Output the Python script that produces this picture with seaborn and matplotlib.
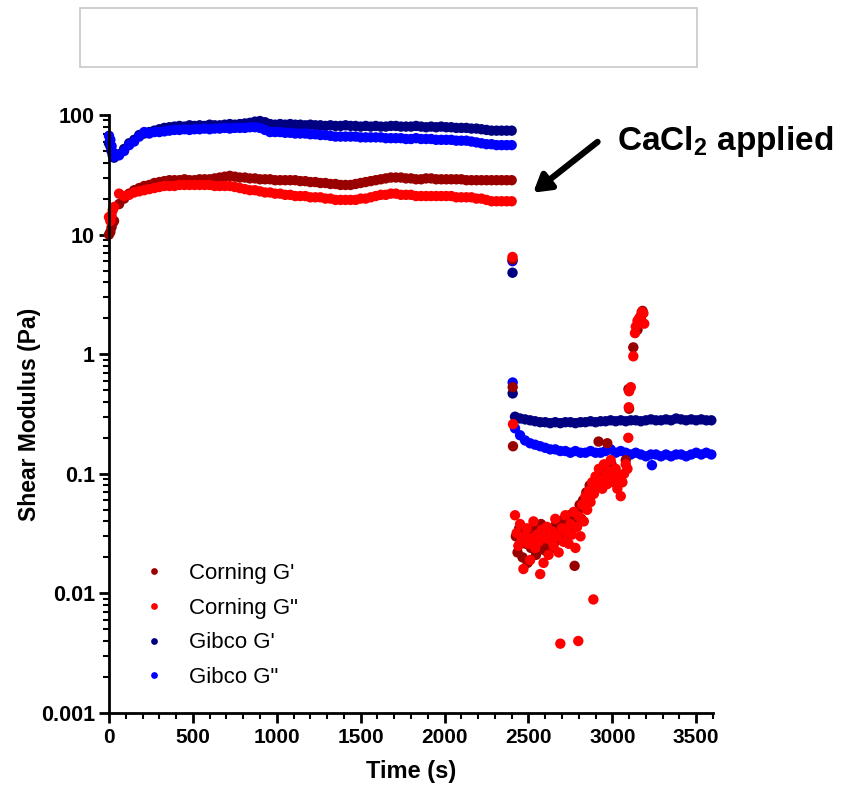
import numpy as np
import pandas as pd
import matplotlib
matplotlib.use("Agg")
import matplotlib.pyplot as plt
import seaborn as sns
from matplotlib.patches import Rectangle
from matplotlib.ticker import MultipleLocator, LogLocator, FixedLocator, NullFormatter

# ---------------- data ----------------
series_names = ["Corning G'", 'Corning G"', "Gibco G'", 'Gibco G"']
series_colors = ["#990000", "#ff0000", "#000080", "#0000ff"]

# phase 1 (before CaCl2), sampled every 30 s
t_phase1 = list(range(0, 2401, 30))
t_early = [8, 15, 22]

gibco_gp_p1 = [58, 44, 47, 52, 58, 62, 68, 70, 72, 74,
               76, 78, 79, 80, 81, 80, 82, 81, 82, 81,
               83, 82, 82, 83, 84, 83, 84, 85, 86, 88,
               89, 87, 84, 83, 84, 83, 84, 83, 83, 82,
               83, 82, 82, 81, 82, 81, 81, 82, 81, 81,
               80, 81, 80, 81, 80, 80, 81, 81, 80, 80,
               80, 81, 80, 79, 80, 79, 80, 79, 79, 78,
               78, 78, 77, 77, 76, 75, 74, 74, 74, 74,
               74]
gibco_gpp_p1 = [67, 45, 46, 50, 56, 60, 66, 72, 70, 72,
                72, 73, 74, 75, 75, 76, 75, 76, 76, 77,
                76, 77, 77, 78, 77, 78, 78, 78, 79, 79,
                78, 75, 72, 72, 72, 71, 71, 70, 70, 70,
                69, 69, 68, 68, 67, 66, 66, 66, 66, 66,
                65, 65, 65, 65, 65, 64, 64, 64, 64, 63,
                63, 64, 63, 63, 63, 62, 62, 62, 62, 61,
                61, 61, 60, 59, 58, 57, 57, 56, 56, 56,
                56]
corning_gp_p1 = [10, 13, 18, 20, 22, 23.5, 24.5, 25.5, 26, 27,
                 27.5, 28, 28.5, 28.5, 28.5, 29, 28.5, 28.5, 29, 29,
                 29, 29.5, 30, 30.5, 31, 30.5, 30, 30, 29.5, 29.5,
                 29, 29, 29, 28.5, 28.5, 28.5, 28.5, 28.5, 28, 28,
                 27.5, 27.5, 27, 27, 26.5, 26.5, 26, 26, 26, 26.5,
                 27, 27.5, 28, 28.5, 29, 29.5, 30, 30, 30, 29.5,
                 29.5, 29, 29, 29.5, 29.5, 29, 29, 29, 29, 29,
                 29, 28.5, 28.5, 28.5, 28.5, 28.5, 28.5, 28.5, 28.5, 28.5,
                 28.5]
corning_gpp_p1 = [14, 17, 22, 21, 21.5, 22.5, 23, 23.5, 24, 24.5,
                  25, 25.5, 25.5, 25.5, 26, 26, 26, 26, 26, 26,
                  26, 25.5, 25.5, 25.5, 25.5, 25, 24.5, 24, 23.5, 23.5,
                  23, 22.5, 22.5, 22, 22, 21.5, 21.5, 21, 21, 21,
                  20.5, 20.5, 20.5, 20, 20, 19.5, 19.5, 19.5, 19.5, 19.5,
                  20, 20, 20.5, 21, 21.5, 21.5, 22, 22, 21.5, 21.5,
                  21.5, 21, 21, 21, 21, 21, 21, 21, 21, 20.5,
                  20.5, 20.5, 20.5, 20, 20, 19.5, 19, 19, 19, 19,
                  19]
gibco_gp_early = [55, 50, 46]
gibco_gpp_early = [62, 55, 49]
corning_gp_early = [10.5, 11.5, 12.5]
corning_gpp_early = [13, 14.5, 16]

# phase 2 (after CaCl2)
t_phase2_gibco = list(range(2420, 3591, 30))
gibco_gp_p2 = [0.30, 0.29, 0.285, 0.28, 0.275, 0.27, 0.27, 0.265, 0.27, 0.265,
               0.27, 0.27, 0.265, 0.27, 0.27, 0.275, 0.27, 0.275, 0.275, 0.28,
               0.275, 0.28, 0.275, 0.28, 0.28, 0.275, 0.28, 0.285, 0.28, 0.28,
               0.285, 0.28, 0.29, 0.285, 0.28, 0.285, 0.28, 0.285, 0.28, 0.28]
gibco_gpp_p2 = [0.24, 0.21, 0.19, 0.18, 0.175, 0.17, 0.165, 0.16, 0.16, 0.155,
                0.155, 0.15, 0.155, 0.15, 0.15, 0.155, 0.15, 0.15, 0.155, 0.16,
                0.15, 0.155, 0.15, 0.145, 0.15, 0.145, 0.14, 0.145, 0.145, 0.14,
                0.145, 0.14, 0.145, 0.145, 0.14, 0.145, 0.15, 0.145, 0.15, 0.145]
gibco_gp_extra_t = [2405, 2406]
gibco_gp_extra_v = [4.8, 0.47]
gibco_gpp_extra_t = [2405, 2406, 3236]
gibco_gpp_extra_v = [6.0, 0.58, 0.118]

corning_gpp_t2 = [2405, 2408, 2420, 2430, 2440, 2450, 2460, 2470, 2480, 2490,
                  2500, 2510, 2520, 2530, 2540, 2550, 2560, 2570, 2580, 2590,
                  2600, 2610, 2620, 2630, 2640, 2650, 2660, 2670, 2680, 2690,
                  2700, 2710, 2720, 2730, 2740, 2750, 2760, 2770, 2780, 2790,
                  2797, 2800, 2810, 2820, 2830, 2840, 2850, 2860, 2870, 2880,
                  2887, 2890, 2900, 2910, 2920, 2930, 2940, 2950, 2960, 2970,
                  2980, 2990, 3000, 3010, 3020, 3030, 3040, 3050, 3060, 3070,
                  3080, 3090, 3095, 3098, 3100, 3110, 3125, 3135, 3140, 3150,
                  3160, 3170, 3175, 3185, 3190]
corning_gpp_v2 = [6.5, 0.26, 0.045, 0.032, 0.025, 0.038, 0.028, 0.016, 0.030, 0.035,
                  0.026, 0.019, 0.029, 0.040, 0.024, 0.031, 0.027, 0.0145, 0.034, 0.018,
                  0.029, 0.036, 0.021, 0.028, 0.033, 0.025, 0.042, 0.030, 0.022, 0.0038,
                  0.035, 0.027, 0.045, 0.032, 0.026, 0.038, 0.031, 0.048, 0.024, 0.036,
                  0.0040, 0.044, 0.030, 0.055, 0.040, 0.065, 0.050, 0.072, 0.058, 0.085,
                  0.0089, 0.068, 0.095, 0.078, 0.110, 0.088, 0.075, 0.120, 0.095, 0.082,
                  0.105, 0.130, 0.090, 0.085, 0.110, 0.075, 0.095, 0.065, 0.085, 0.100,
                  0.120, 0.110, 0.200, 0.360, 0.490, 0.530, 0.960, 1.5, 1.7, 1.9,
                  2.0, 2.1, 2.25, 2.2, 1.8]
corning_gp_t2 = [2405, 2406, 2408, 2425, 2435, 2445, 2455, 2465, 2475, 2485,
                 2495, 2505, 2515, 2525, 2535, 2545, 2555, 2565, 2575, 2585,
                 2595, 2605, 2615, 2625, 2635, 2645, 2655, 2665, 2675, 2685,
                 2695, 2705, 2715, 2725, 2735, 2745, 2755, 2765, 2775, 2785,
                 2795, 2805, 2815, 2825, 2835, 2845, 2855, 2865, 2875, 2885,
                 2895, 2905, 2918, 2925, 2945, 2970, 2995, 3020, 3050, 3080,
                 3096, 3100, 3125, 3150, 3170, 3180]
corning_gp_v2 = [6.2, 0.53, 0.17, 0.030, 0.022, 0.035, 0.027, 0.020, 0.033, 0.026,
                 0.018, 0.030, 0.024, 0.036, 0.028, 0.021, 0.032, 0.026, 0.038, 0.029,
                 0.023, 0.031, 0.026, 0.035, 0.029, 0.024, 0.033, 0.038, 0.028, 0.040,
                 0.031, 0.036, 0.042, 0.030, 0.037, 0.045, 0.034, 0.040, 0.017, 0.038,
                 0.046, 0.055, 0.042, 0.060, 0.052, 0.070, 0.063, 0.080, 0.072, 0.068,
                 0.085, 0.095, 0.186, 0.100, 0.110, 0.180, 0.120, 0.100, 0.090, 0.130,
                 0.51, 0.35, 1.14, 1.6, 2.0, 2.3]

x_ticks = [0, 500, 1000, 1500, 2000, 2500, 3000, 3500]
y_ticks = [0.001, 0.01, 0.1, 1, 10, 100]
y_tick_labels = ["0.001", "0.01", "0.1", "1", "10", "100"]

# ---------------- table ----------------
def block(name, t, v):
    return pd.DataFrame({"Time": list(t), "Modulus": list(v), "series": name})

# drawing order: Gibco first, Corning on top
df = pd.concat([
    block(series_names[2], t_early + t_phase1 + gibco_gp_extra_t + t_phase2_gibco,
          gibco_gp_early + gibco_gp_p1 + gibco_gp_extra_v + gibco_gp_p2),
    block(series_names[3], t_early + t_phase1 + gibco_gpp_extra_t + t_phase2_gibco,
          gibco_gpp_early + gibco_gpp_p1 + gibco_gpp_extra_v + gibco_gpp_p2),
    block(series_names[0], t_early + t_phase1 + corning_gp_t2,
          corning_gp_early + corning_gp_p1 + corning_gp_v2),
    block(series_names[1], t_early + t_phase1 + corning_gpp_t2,
          corning_gpp_early + corning_gpp_p1 + corning_gpp_v2),
], ignore_index=True)

# ---------------- style ----------------
sns.set_style("ticks")
plt.rcParams["font.family"] = ["Liberation Sans", "DejaVu Sans"]
plt.rcParams["mathtext.fontset"] = "custom"
plt.rcParams["mathtext.rm"] = "Liberation Sans"
plt.rcParams["mathtext.bf"] = "Liberation Sans:bold"
for key in ["text.color", "axes.labelcolor", "xtick.color", "ytick.color", "axes.edgecolor"]:
    plt.rcParams[key] = "black"

W, H = 841, 787
fig = plt.figure(figsize=(W / 100, H / 100), dpi=100)
L, R, T, B = 109, 713, 115, 713
ax = fig.add_axes([L / W, 1 - B / H, (R - L) / W, (B - T) / H])

sns.scatterplot(data=df, x="Time", y="Modulus", hue="series",
                hue_order=series_names,
                palette=dict(zip(series_names, series_colors)),
                s=56, linewidth=0, ax=ax, legend=True, clip_on=False)

ax.set_yscale("log")
ax.set_xlim(0, 3600)
ax.set_ylim(0.001, 100)

ax.xaxis.set_major_locator(FixedLocator(x_ticks))
ax.xaxis.set_minor_locator(MultipleLocator(100))
ax.set_xticklabels([str(v) for v in x_ticks], fontsize=15, fontweight="bold",
                   family=["Liberation Sans Narrow", "Liberation Sans"])
ax.yaxis.set_major_locator(FixedLocator(y_ticks))
ax.yaxis.set_minor_locator(LogLocator(base=10, subs=np.arange(2, 10), numticks=20))
ax.yaxis.set_minor_formatter(NullFormatter())
ax.set_yticklabels(y_tick_labels, fontsize=15.5, fontweight="bold")

for side in ["top", "right"]:
    ax.spines[side].set_visible(False)
for side in ["left", "bottom"]:
    ax.spines[side].set_linewidth(2)
    ax.spines[side].set_color("black")
ax.tick_params(which="major", direction="out", length=7, width=2, color="black", pad=3)
ax.tick_params(which="minor", direction="out", length=4, width=1.5, color="black")
ax.tick_params(axis="x", which="major", pad=4)

ax.set_xlabel("Time (s)", fontsize=17, fontweight="bold")
ax.set_ylabel("Shear Modulus (Pa)", fontsize=16.5, fontweight="bold")
ax.xaxis.set_label_coords(0.5, -0.078)
ax.yaxis.set_label_coords(-0.113, 0.5)

# legend
handles, labels = ax.get_legend_handles_labels()
leg = ax.legend(handles, labels, loc="center left",
                bbox_to_anchor=((123 - L) / (R - L), (B - 625.5) / (B - T)),
                frameon=False, fontsize=16, handlelength=1.0, handletextpad=1.05,
                labelspacing=0.62, markerscale=0.65, borderpad=0.4)

# annotation: arrow and text
ax.annotate("", xy=(2528, 22.4), xytext=(2912, 59.6), textcoords="data",
            annotation_clip=False,
            arrowprops=dict(arrowstyle="-|>,head_length=1.0,head_width=0.6",
                            color="black", lw=4.5, shrinkA=0, shrinkB=0))
ax.text(3025, 60, r"CaCl$_\mathbf{2}$ applied", fontsize=24, fontweight="bold",
        va="center", ha="left", clip_on=False)

# empty title box
fig.patches.append(Rectangle((80 / W, 1 - 67 / H), 617 / W, 59 / H,
                             transform=fig.transFigure, fill=False,
                             edgecolor="#c8c8c8", lw=1.2))

fig.savefig("out.png", dpi=100, facecolor="white")
